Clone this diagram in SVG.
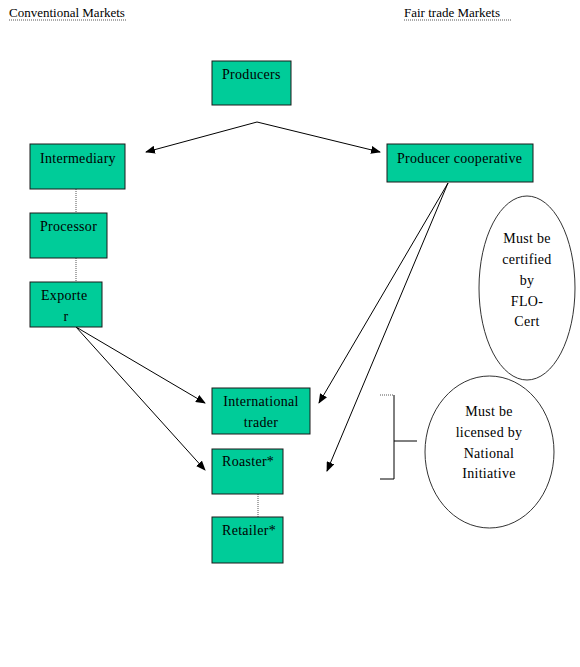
<svg xmlns="http://www.w3.org/2000/svg" width="580" height="667" viewBox="0 0 580 667">
<style>
.t{font-family:"Liberation Serif","Times New Roman",serif;font-size:14px;letter-spacing:0.3px;fill:#000}
.h{font-family:"Liberation Serif","Times New Roman",serif;font-size:13px;fill:#000}
.box{fill:#00CC99;stroke:#1a1a1a;stroke-width:1}
.ln{stroke:#000;stroke-width:1;fill:none}
.dot{stroke:#555;stroke-width:1;stroke-dasharray:1 1;fill:none}
.ell{fill:#fff;stroke:#333;stroke-width:1}
.c{text-anchor:middle}
</style>
<defs>
<marker id="ah" markerWidth="10" markerHeight="8" refX="9" refY="4" orient="auto" markerUnits="userSpaceOnUse">
<path d="M0,0 L10,4 L0,8 z" fill="#000"/>
</marker>
</defs>
<rect width="580" height="667" fill="#fff"/>
<g id="headers" font-family="Liberation Serif, serif">
<text x="9" y="17" class="h">Conventional Markets</text>
<line x1="9" y1="20" x2="127" y2="20" class="dot"/>
<text x="404" y="17" class="h">Fair trade Markets</text>
<line x1="404" y1="20" x2="512" y2="20" class="dot"/>
</g>
<g id="connectors">
<line x1="257" y1="122" x2="146" y2="152" class="ln" marker-end="url(#ah)"/>
<line x1="257" y1="122" x2="380" y2="152" class="ln" marker-end="url(#ah)"/>
<line x1="448" y1="183" x2="319" y2="403" class="ln" marker-end="url(#ah)"/>
<line x1="448" y1="183" x2="327" y2="471" class="ln" marker-end="url(#ah)"/>
<line x1="76" y1="327" x2="205" y2="403" class="ln" marker-end="url(#ah)"/>
<line x1="76" y1="327" x2="205" y2="470" class="ln" marker-end="url(#ah)"/>
<line x1="76" y1="189" x2="76" y2="213" class="dot"/>
<line x1="76" y1="258" x2="76" y2="282" class="dot"/>
<line x1="258" y1="494" x2="258" y2="517" class="dot"/>
</g>
<g font-family="Liberation Serif, serif">
<g id="producers"><rect x="212" y="61" width="79" height="44" class="box"/><text x="222" y="79" class="t">Producers</text></g>
<g id="intermediary"><rect x="30" y="144" width="95" height="45" class="box"/><text x="40" y="163" class="t">Intermediary</text></g>
<g id="producer-cooperative"><rect x="387" y="144" width="146" height="38" class="box"/><text x="397" y="163" class="t">Producer cooperative</text></g>
<g id="processor"><rect x="30" y="213" width="77" height="45" class="box"/><text x="40" y="231" class="t">Processor</text></g>
<g id="exporter"><rect x="30" y="282" width="72" height="45" class="box"/><text x="41" y="300" class="t">Exporte</text><text x="66" y="321" class="t c">r</text></g>
<g id="international-trader"><rect x="212" y="388" width="98" height="46" class="box"/><text x="261" y="406" class="t c">International</text><text x="261" y="427" class="t c">trader</text></g>
<g id="roaster"><rect x="212" y="449" width="71" height="45" class="box"/><text x="222" y="466" class="t">Roaster*</text></g>
<g id="retailer"><rect x="212" y="517" width="71" height="46" class="box"/><text x="222" y="535" class="t">Retailer*</text></g>
<g id="flo-cert">
<ellipse cx="527" cy="288" rx="48" ry="92" class="ell"/>
<text x="527" y="243" class="t c">Must be</text>
<text x="527" y="264" class="t c">certified</text>
<text x="527" y="285" class="t c">by</text>
<text x="527" y="306" class="t c">FLO-</text>
<text x="527" y="326" class="t c">Cert</text>
</g>
<g id="national-initiative">
<ellipse cx="489.5" cy="452" rx="64.5" ry="76" class="ell"/>
<text x="489" y="416" class="t c">Must be</text>
<text x="489" y="437" class="t c">licensed by</text>
<text x="489" y="458" class="t c">National</text>
<text x="489" y="478" class="t c">Initiative</text>
</g>
</g>
<g id="bracket">
<line x1="380" y1="395" x2="394" y2="395" class="dot"/>
<polyline points="394,395 394,479 380,479" class="ln"/>
<line x1="394" y1="441" x2="417" y2="441" class="ln"/>
</g>
</svg>
